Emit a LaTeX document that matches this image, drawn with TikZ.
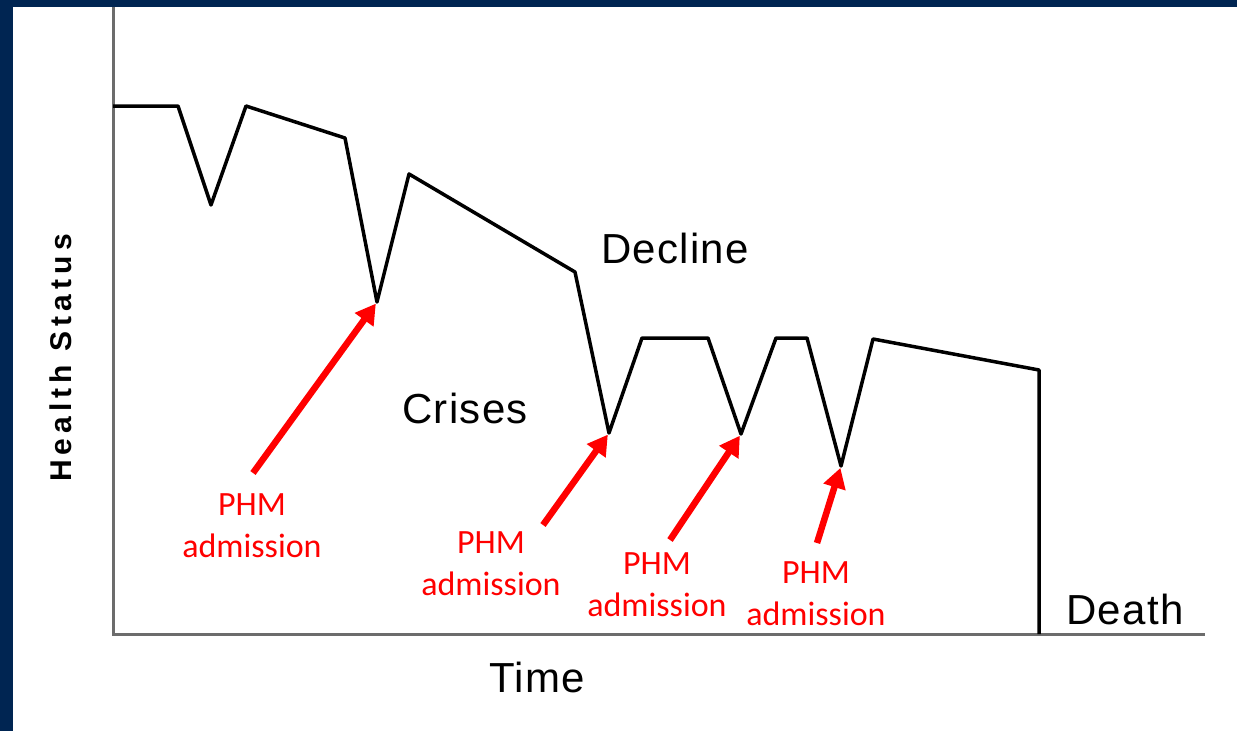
\documentclass[tikz,border=0pt]{standalone}
\usepackage{fontspec}
\setmainfont{Liberation Sans}
\newfontfamily\calibri{Carlito}
\usetikzlibrary{arrows.meta}
\definecolor{framenavy}{RGB}{0,37,82}
\definecolor{axisgray}{RGB}{108,108,108}
\definecolor{phmred}{RGB}{255,0,0}

\begin{document}
\begin{tikzpicture}[x=1pt,y=-1pt,
  axisline/.style={draw=axisgray,line width=3pt},
  trend/.style={draw=black,line width=3.5pt,line join=round},
  pointer/.style={draw=phmred,line width=6.5pt,shorten >=2pt,
    -{Triangle[length=20pt,width=22pt]}},
  phmtext/.style={text=phmred,align=center,inner sep=0pt,
    font=\calibri\fontsize{34}{42}\selectfont},
  axistext/.style={inner sep=0pt,anchor=base,
    font=\fontsize{42}{50}\selectfont\addfontfeatures{LetterSpace=3}}
]
% page and navy frame
\useasboundingbox (0,0) rectangle (1237,731);
\fill[framenavy] (0,0) rectangle (1237,731);
\fill[white] (13,7) rectangle (1237,731);

% axes
\coordinate (ytop) at (113,7);
\coordinate (origin) at (113,634);
\coordinate (xend) at (1205,634);
\draw[axisline] (ytop) -- (origin) -- (xend);

% health trajectory
\coordinate (p0) at (113,106);
\coordinate (p1) at (178,106);
\coordinate (dipA) at (211,205);
\coordinate (p3) at (246,106);
\coordinate (p4) at (345,138);
\coordinate (dip1) at (377,302);
\coordinate (p6) at (409,174);
\coordinate (p7) at (575,272);
\coordinate (dip2) at (609,433);
\coordinate (p9) at (642,338);
\coordinate (p10) at (708,338);
\coordinate (dip3) at (741,434);
\coordinate (p12) at (776,338);
\coordinate (p13) at (807,338);
\coordinate (dip4) at (841,466);
\coordinate (p15) at (873,339);
\coordinate (p16) at (1039,370);
\coordinate (p17) at (1039,634);
\draw[trend] (p0) -- (p1) -- (dipA) -- (p3) -- (p4) -- (dip1) -- (p6) -- (p7)
  -- (dip2) -- (p9) -- (p10) -- (dip3) -- (p12) -- (p13) -- (dip4) -- (p15)
  -- (p16) -- (p17);

% axis and region labels
\node[axistext,rotate=90,
  font=\bfseries\fontsize{30}{36}\selectfont\addfontfeatures{LetterSpace=17}]
  (ylab) at (71,358) {Health Status};
\node[axistext] (xlab) at (537,692) {Time};
\node[axistext] (decline) at (675,263) {Decline};
\node[axistext] (crises) at (465,423) {Crises};
\node[axistext] (death) at (1125,624) {Death};

% admission labels and pointers
\node[phmtext] (adm1) at (252,526) {PHM\\admission};
\node[phmtext] (adm2) at (491,564) {PHM\\admission};
\node[phmtext] (adm3) at (657,585) {PHM\\admission};
\node[phmtext] (adm4) at (816,594) {PHM\\admission};

\coordinate (t1) at (253,473);
\coordinate (t2) at (543,525);
\coordinate (t3) at (670,540);
\coordinate (t4) at (817,543);
\draw[pointer] (t1) -- (dip1);
\draw[pointer] (t2) -- (dip2);
\draw[pointer] (t3) -- (dip3);
\draw[pointer] (t4) -- (dip4);
\end{tikzpicture}
\end{document}
